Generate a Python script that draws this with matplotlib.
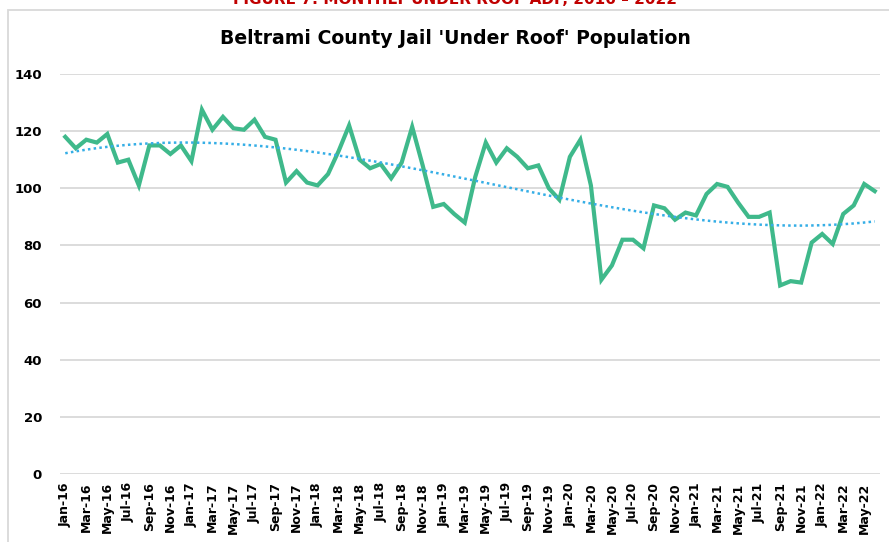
import numpy as np
import matplotlib
matplotlib.use("Agg")
import matplotlib.pyplot as plt
from matplotlib.patches import Rectangle

# Monthly "under roof" population, Jan-16 .. Jun-22
months = ["Jan", "Feb", "Mar", "Apr", "May", "Jun",
          "Jul", "Aug", "Sep", "Oct", "Nov", "Dec"]
years = [16, 17, 18, 19, 20, 21, 22]
labels = [f"{m}-{y}" for y in years for m in months][:78]

population = [
    118, 114, 117, 116, 119, 109, 110, 101, 115, 115, 112, 115,   # 2016
    109.5, 127.5, 120.5, 125, 121, 120.5, 124, 118, 117, 102, 106, 102,  # 2017
    101, 105, 113, 122, 110, 107, 108.5, 103.5, 109, 121.5, 108, 93.5,  # 2018
    94.5, 91, 88, 104, 116, 109, 114, 111, 107, 108, 100, 96,     # 2019
    111, 117, 101, 68, 73, 82, 82, 79, 94, 93, 89, 91.5,          # 2020
    90.5, 98, 101.5, 100.5, 95, 90, 90, 91.5, 66, 67.5, 67, 81,   # 2021
    84, 80.5, 91, 94, 101.5, 99,                                  # 2022
]

y_ticks = [0, 20, 40, 60, 80, 100, 120, 140]

GREEN = "#3fb98b"
BLUE = "#35aee6"
GRID = "#d9d9d9"

fig = plt.figure(figsize=(8.89, 5.42), dpi=100)
ax = fig.add_axes([60 / 889, 1 - 474 / 542, 820 / 889, 400 / 542])

x = np.arange(len(population))
ax.plot(x, population, color=GREEN, lw=3.0, solid_joinstyle="miter", zorder=3)

# polynomial trendline, as in the spreadsheet chart
coef = np.polyfit(x, population, 3)
ax.plot(x, np.polyval(coef, x), color=BLUE, lw=1.8, ls=(0, (1, 1.3)), zorder=4)

ax.set_ylim(0, 140)
ax.set_xlim(-0.5, len(population) - 0.5)
ax.set_yticks(y_ticks)
ax.set_xticks(x[::2])
ax.set_xticklabels(labels[::2], rotation=90, fontsize=9, fontweight="bold")
ax.tick_params(axis="y", labelsize=9.5, pad=13, length=0)
ax.tick_params(axis="x", pad=6, length=0)
for t in ax.get_yticklabels():
    t.set_fontweight("bold")
ax.grid(axis="y", color=GRID, lw=1.3)
ax.set_axisbelow(True)
for s in ax.spines.values():
    s.set_visible(False)

# chart frame
fig.patches.append(Rectangle((8 / 889, -0.2), 1.2, 1.2 - 10 / 542,
                             transform=fig.transFigure, fill=False,
                             ec=GRID, lw=1.3))

fig.text(455 / 889, 1 - 39 / 542, "Beltrami County Jail 'Under Roof' Population",
         ha="center", va="center", fontsize=13.6, fontweight="bold")
# caption above the chart, cut off by the top edge as in the source
fig.text(455 / 889, 1 - 3.5 / 542, "FIGURE 7: MONTHLY UNDER ROOF ADP, 2016 \u2013 2022",
         ha="center", va="baseline", fontsize=11, fontweight="bold", color="#c00000")

fig.savefig("out.png", dpi=100)
